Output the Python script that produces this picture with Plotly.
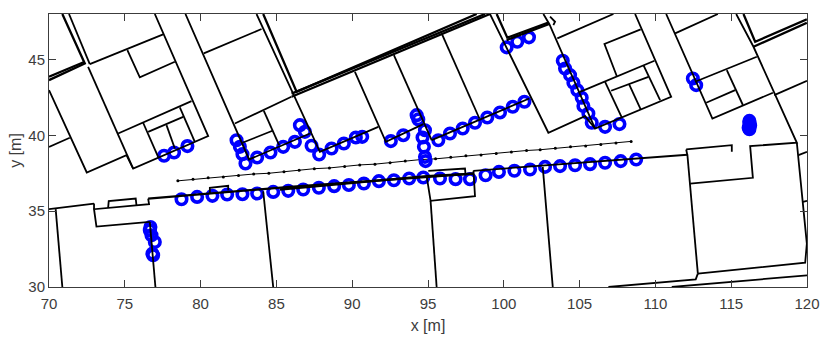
import plotly.graph_objects as go

# Measurement route (small black dots)
route_x = [78.5,79.5,80.5,81.5,82.5,83.5,84.5,85.5,86.5,87.5,88.5,89.5,90.5,91.5,92.5,93.5,94.5,95.5,96.5,97.5,98.5,99.5,100.5,101.5,102.4,103.4,104.4,105.4,106.4,107.4,108.4]
route_y = [37.0,37.1,37.2,37.25,37.35,37.45,37.5,37.6,37.7,37.8,37.85,37.95,38.05,38.1,38.2,38.3,38.4,38.45,38.55,38.65,38.7,38.8,38.9,39.0,39.05,39.15,39.25,39.3,39.4,39.5,39.6]

# Blue scatterers
blue_x = [78.74,79.77,80.78,81.75,82.76,83.73,84.79,85.78,86.77,87.8,88.81,89.78,90.77,91.76,92.75,93.76,94.69,95.79,96.82,97.77,98.8,99.68,100.7,101.73,102.72,103.71,104.7,105.69,106.68,107.71,108.73,
          None,76.69,76.65,76.76,76.98,76.82,76.87,
          None,77.59,78.25,79.13,
          None,82.37,82.59,82.76,82.96,83.73,84.61,85.45,86.22,86.55,86.88,87.32,87.82,88.64,89.45,90.24,90.66,
          None,92.55,93.37,
          None,94.25,94.36,94.8,94.64,94.73,94.8,94.84,
          None,95.68,96.45,97.29,98.1,98.91,99.75,100.59,101.36,
          None,100.19,100.89,101.66,
          None,103.89,104.04,104.37,104.59,104.85,105.14,105.25,105.58,105.8,106.68,107.63,
          None,112.47,112.69,
          None,116.2,116.2,116.25,116.15,116.2]
blue_y = [35.79,35.94,36.01,36.10,36.12,36.16,36.27,36.34,36.43,36.54,36.65,36.73,36.82,36.98,37.04,37.15,37.22,37.15,37.11,37.11,37.37,37.59,37.66,37.75,37.92,37.97,38.03,38.1,38.19,38.3,38.41,
          None,33.96,33.74,33.41,32.97,32.2,32.09,
          None,38.65,38.87,39.29,
          None,39.68,39.24,38.76,38.14,38.54,38.87,39.24,39.57,40.67,40.23,39.31,38.74,39.13,39.46,39.86,39.9,
          None,39.62,40.01,
          None,41.33,41.05,40.34,39.86,39.24,38.58,38.3,
          None,39.68,40.12,40.45,40.83,41.18,41.51,41.88,42.21,
          None,45.8,46.17,46.46,
          None,44.92,44.41,43.97,43.47,42.98,42.48,41.93,41.44,40.83,40.56,40.74,
          None,43.75,43.31,
          None,40.95,40.8,40.65,40.5,40.4]

# Thin building walls, polylines separated by None
wall_x = [72.69,77.53, None, 76.98,80.50,75.55,75.11,72.49,70.0, None, 72.58,75.55, None, 74.56,79.40, None,
          75.17,75.99,78.30, None, 76.21,77.20, None, 76.54,78.85, None, 78.63,79.62, None, 77.75,78.30, None, 70.0,71.37, None,
          71.32,72.69, None, 79.0,83.20,87.21, None, 80.21,84.02, None, 83.69,87.87,91.72, None, 82.26,85.99, None,
          82.76,84.74, None, 84.17,85.18, None, 90.18,92.22,94.69, None, 92.75,95.24, None, 95.90,98.39, None, 95.24,101.68, None,
          99.09,102.94,105.36,106.02, None, 102.61,103.0,106.02,111.04,108.66, None, 103.53,107.23, None,
          109.03,106.64,107.45, None, 105.03,109.94, None, 106.68,107.78, None, 107.08,109.54, None, 108.26,109.03, None, 109.21,110.31, None,
          110.71,113.76,117.75, None, 111.30,114.12, None, 112.62,116.69, None, 114.71,115.77, None, 113.35,115.26, None,
          115.33,116.47,119.33,116.25,116.43,112.29, None, 112.03,115.04,115.04, None, 112.03,112.11, None, 112.8,112.66,106.9, None,
          112.8,119.88,119.99,119.33, None, 119.44,120.0, None, 119.73,120.0, None, 111.08,120.0, None,
          112.11,112.8, None, 97.99,112.11, None, 98.0,98.1,95.17,94.91, None, 95.02,97.44,97.48, None, 95.17,95.57, None, 102.57,103.23, None,
          84.13,84.79, None, 76.65,77.02, None, 76.65,73.13,72.97,76.60,76.54, None, 72.97,70.0, None, 72.97,72.97, None, 70.44,70.88, None,
          73.90,73.94,75.72,75.77, None, 80.61,80.61,81.82,81.82, None, 117.84,120.0, None, 103.05,103.38,103.27]
wall_y = [44.70,46.66, None, 48.0,39.95,37.81,38.69,37.55,42.98, None, 44.52,37.81, None, 40.12,42.26, None,
          45.62,43.82,44.85, None, 40.83,38.58, None, 40.23,41.22, None, 41.84,39.57, None, 40.67,39.13, None, 39.24,39.84, None,
          48.0,44.70, None, 48.0,38.41,40.12, None, 45.40,47.01, None, 48.0,38.91,40.56, None, 40.78,42.54, None,
          39.51,40.30, None, 41.62,39.35, None, 44.19,39.57,40.74, None, 45.29,39.68, None, 46.72,41.11, None, 39.68,42.43, None,
          48.0,40.17,41.27,40.45, None, 48.0,47.34,40.45,42.54,48.0, None, 46.39,48.0, None,
          46.99,46.02,43.91, None, 42.87,44.92, None, 43.53,41.18, None, 42.94,43.86, None, 43.38,41.71, None, 44.63,42.32, None,
          48.0,41.11,42.81, None, 46.72,48.0, None, 43.53,45.18, None, 44.30,42.0, None, 42.15,42.98, None,
          48.0,45.84,39.51,39.29,37.2,36.82, None, 39.07,39.35,38.91, None, 39.07,38.69, None, 30.88,30.5,30.0, None,
          30.88,31.6,32.86,39.51, None, 38.69,38.91, None, 35.61,35.68, None, 30.0,30.77, None,
          38.72,30.88, None, 37.66,38.72, None, 37.66,35.99,35.68,37.31, None, 37.66,37.81,37.37, None, 35.68,30.0, None, 37.92,30.0, None,
          36.31,30.0, None, 34.29,30.0, None, 34.29,33.98,35.13,35.46,35.83, None, 35.50,35.13, None, 35.50,35.13, None, 35.13,30.0, None,
          35.22,35.66,35.83,35.39, None, 36.16,36.54,36.67,36.38, None, 42.65,43.60, None, 47.82,47.49,47.27]

# Thick outer walls
thick_x = [70.88,72.36,70.0, None, 70.0,72.36, None, 84.13,86.33,98.21, None, 86.0,98.76, None, 86.0,99.09, None,
           99.53,100.23,102.94, None, 100.19,103.0, None, 115.81,116.58,119.99, None, 116.47,119.99, None,
           76.54,85.89,97.99, None, 85.23,94.91,97.99]
thick_y = [48.0,44.74,43.64, None, 43.86,44.85, None, 48.0,42.87,48.0, None, 42.75,48.0, None, 42.54,48.0, None,
           48.0,46.44,47.43, None, 46.28,47.34, None, 48.0,46.17,47.65, None, 45.84,47.42, None,
           35.83,36.60,37.48, None, 36.43,37.31,37.48]

x_ticks = [70,75,80,85,90,95,100,105,110,115,120]
y_ticks = [30,35,40,45]

BLACK = "#000000"
BLUE = "#0000ff"
INK = "#3c3c3c"
FONT = "Liberation Sans"

fig = go.Figure()
fig.add_trace(go.Scatter(x=route_x, y=route_y, mode="lines+markers",
                         line=dict(color=BLACK, width=1),
                         marker=dict(color=BLACK, size=3, symbol="circle")))
fig.add_trace(go.Scatter(x=blue_x, y=blue_y, mode="markers",
                         marker=dict(symbol="circle-open", size=10.5, color=BLUE, line=dict(color=BLUE, width=3.6))))
fig.add_trace(go.Scatter(x=wall_x, y=wall_y, mode="lines", line=dict(color=BLACK, width=1.8)))
fig.add_trace(go.Scatter(x=thick_x, y=thick_y, mode="lines", line=dict(color=BLACK, width=2.3)))

axis = dict(ticks="inside", ticklen=7, tickwidth=0.6, tickcolor=INK, showline=True, linecolor=INK, linewidth=1,
            mirror="ticks", showgrid=False, zeroline=False, automargin=False,
            tickfont=dict(family=FONT, size=15, color=INK))
fig.update_layout(
    width=830, height=337, margin=dict(l=49.3, r=23.3, t=14, b=50.3),
    paper_bgcolor="white", plot_bgcolor="white", showlegend=False,
    xaxis=dict(axis, range=[70,120], tickvals=x_ticks, ticklabelstandoff=3,
               title=dict(text="x [m]", font=dict(family=FONT, size=16, color=INK), standoff=8)),
    yaxis=dict(axis, range=[30,48], tickvals=y_ticks,
               title=dict(text="y [m]", font=dict(family=FONT, size=16, color=INK), standoff=2)),
)
fig.write_html("out.html", config={"displayModeBar": False}, post_script="document.body.style.margin='0';")
